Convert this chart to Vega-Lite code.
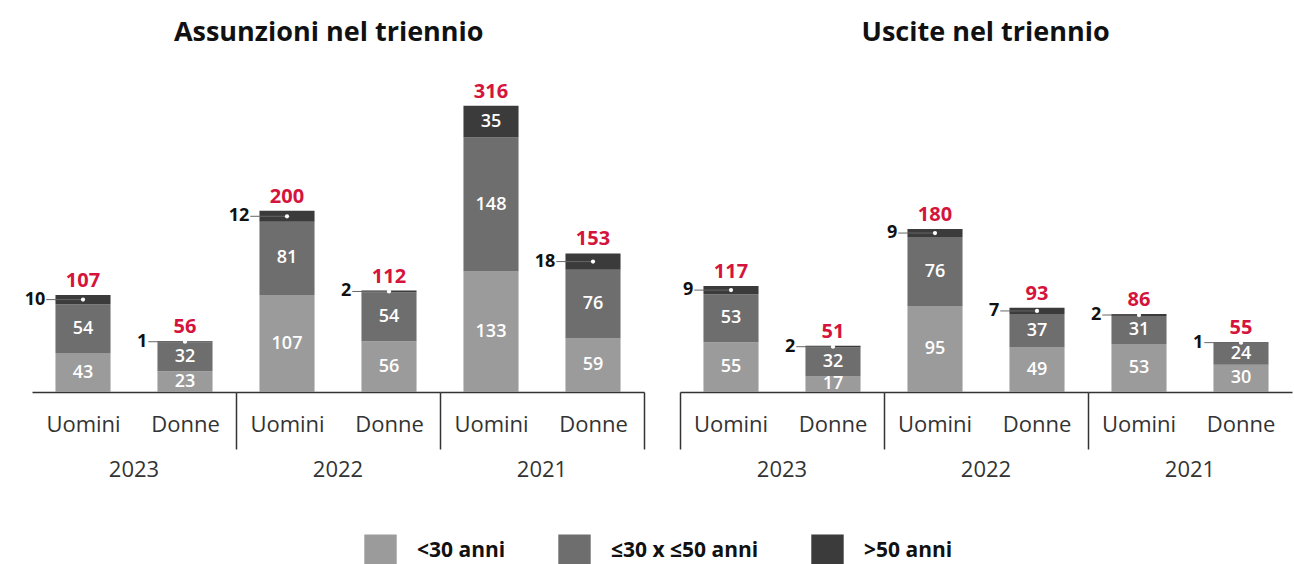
{
  "$schema": "https://vega.github.io/schema/vega-lite/v6.json",
  "padding": {"left": 24, "right": 2, "top": 19, "bottom": 0},
  "background": "white",
  "datasets": {
    "d": [
      {"panel": "Assunzioni", "year": "2023", "gender": "Uomini", "age": "<30 anni", "value": 43},
      {"panel": "Assunzioni", "year": "2023", "gender": "Uomini", "age": "≤30 x ≤50 anni", "value": 54},
      {"panel": "Assunzioni", "year": "2023", "gender": "Uomini", "age": ">50 anni", "value": 10},
      {"panel": "Assunzioni", "year": "2023", "gender": "Donne", "age": "<30 anni", "value": 23},
      {"panel": "Assunzioni", "year": "2023", "gender": "Donne", "age": "≤30 x ≤50 anni", "value": 32},
      {"panel": "Assunzioni", "year": "2023", "gender": "Donne", "age": ">50 anni", "value": 1},
      {"panel": "Assunzioni", "year": "2022", "gender": "Uomini", "age": "<30 anni", "value": 107},
      {"panel": "Assunzioni", "year": "2022", "gender": "Uomini", "age": "≤30 x ≤50 anni", "value": 81},
      {"panel": "Assunzioni", "year": "2022", "gender": "Uomini", "age": ">50 anni", "value": 12},
      {"panel": "Assunzioni", "year": "2022", "gender": "Donne", "age": "<30 anni", "value": 56},
      {"panel": "Assunzioni", "year": "2022", "gender": "Donne", "age": "≤30 x ≤50 anni", "value": 54},
      {"panel": "Assunzioni", "year": "2022", "gender": "Donne", "age": ">50 anni", "value": 2},
      {"panel": "Assunzioni", "year": "2021", "gender": "Uomini", "age": "<30 anni", "value": 133},
      {"panel": "Assunzioni", "year": "2021", "gender": "Uomini", "age": "≤30 x ≤50 anni", "value": 148},
      {"panel": "Assunzioni", "year": "2021", "gender": "Uomini", "age": ">50 anni", "value": 35},
      {"panel": "Assunzioni", "year": "2021", "gender": "Donne", "age": "<30 anni", "value": 59},
      {"panel": "Assunzioni", "year": "2021", "gender": "Donne", "age": "≤30 x ≤50 anni", "value": 76},
      {"panel": "Assunzioni", "year": "2021", "gender": "Donne", "age": ">50 anni", "value": 18},
      {"panel": "Uscite", "year": "2023", "gender": "Uomini", "age": "<30 anni", "value": 55},
      {"panel": "Uscite", "year": "2023", "gender": "Uomini", "age": "≤30 x ≤50 anni", "value": 53},
      {"panel": "Uscite", "year": "2023", "gender": "Uomini", "age": ">50 anni", "value": 9},
      {"panel": "Uscite", "year": "2023", "gender": "Donne", "age": "<30 anni", "value": 17},
      {"panel": "Uscite", "year": "2023", "gender": "Donne", "age": "≤30 x ≤50 anni", "value": 32},
      {"panel": "Uscite", "year": "2023", "gender": "Donne", "age": ">50 anni", "value": 2},
      {"panel": "Uscite", "year": "2022", "gender": "Uomini", "age": "<30 anni", "value": 95},
      {"panel": "Uscite", "year": "2022", "gender": "Uomini", "age": "≤30 x ≤50 anni", "value": 76},
      {"panel": "Uscite", "year": "2022", "gender": "Uomini", "age": ">50 anni", "value": 9},
      {"panel": "Uscite", "year": "2022", "gender": "Donne", "age": "<30 anni", "value": 49},
      {"panel": "Uscite", "year": "2022", "gender": "Donne", "age": "≤30 x ≤50 anni", "value": 37},
      {"panel": "Uscite", "year": "2022", "gender": "Donne", "age": ">50 anni", "value": 7},
      {"panel": "Uscite", "year": "2021", "gender": "Uomini", "age": "<30 anni", "value": 53},
      {"panel": "Uscite", "year": "2021", "gender": "Uomini", "age": "≤30 x ≤50 anni", "value": 31},
      {"panel": "Uscite", "year": "2021", "gender": "Uomini", "age": ">50 anni", "value": 2},
      {"panel": "Uscite", "year": "2021", "gender": "Donne", "age": "<30 anni", "value": 30},
      {"panel": "Uscite", "year": "2021", "gender": "Donne", "age": "≤30 x ≤50 anni", "value": 24},
      {"panel": "Uscite", "year": "2021", "gender": "Donne", "age": ">50 anni", "value": 1}
    ]
  },
  "hconcat": [
    {
      "data": {"name": "d"},
      "transform": [
        {"filter": "datum.panel == 'Assunzioni'"},
        {"calculate": "indexof(['<30 anni','≤30 x ≤50 anni','>50 anni'], datum.age)", "as": "idx"},
        {"stack": "value", "groupby": ["year", "gender"], "sort": [{"field": "idx", "order": "ascending"}], "as": ["s0", "s1"]},
        {"calculate": "(datum.s0 + datum.s1) / 2", "as": "mid"},
        {"joinaggregate": [{"op": "sum", "field": "value", "as": "total"}], "groupby": ["year", "gender"]}
      ],
      "title": {"text": "Assunzioni nel triennio", "dx": -6},
      "spacing": 0,
      "bounds": "flush",
      "facet": {"column": {"field": "year", "type": "nominal", "sort": ["2023", "2022", "2021"], "header": {"title": null, "labelOrient": "bottom", "labelFontSize": 22, "labelColor": "#333333", "labelPadding": 10, "labelFont": "Open Sans"}}},
      "spec": {
        "width": 204,
        "height": 317,
        "encoding": {
          "x": {"field": "gender", "type": "nominal", "sort": ["Uomini", "Donne"], "scale": {"paddingInner": 0, "paddingOuter": 0}, "axis": {"title": null, "ticks": true, "tickBand": "extent", "tickSize": 57, "tickWidth": 1.5, "tickColor": "#333333", "tickOpacity": {"expr": "datum.index == 1 ? 1 : 0"}, "labelAngle": 0, "labelFontSize": 22, "labelColor": "#333333", "labelPadding": -35, "labelFont": "Open Sans", "domainColor": "#333333", "domainWidth": 1.5}}
        },
        "layer": [
          {
            "mark": {"type": "bar", "width": {"band": 0.54}},
            "encoding": {
              "y": {"field": "s0", "type": "quantitative", "scale": {"domain": [0, 350], "nice": false}, "axis": null},
              "y2": {"field": "s1"},
              "color": {"field": "age", "type": "nominal", "scale": {"domain": ["<30 anni", "≤30 x ≤50 anni", ">50 anni"], "range": ["#9b9b9b", "#6e6e6e", "#3b3b3b"]}, "legend": {"title": null, "orient": "bottom", "direction": "horizontal", "symbolType": "square", "symbolSize": 1050, "symbolStrokeWidth": 0, "symbolOpacity": 1, "labelFontSize": 21, "labelFontWeight": "bold", "labelColor": "#111111", "labelOffset": 20, "columnPadding": 52, "offset": 53, "labelFont": "Open Sans"}}
            }
          },
          {
            "transform": [{"filter": "datum.age != '>50 anni' || datum.value >= 25"}],
            "mark": {"type": "text", "color": "white", "fontSize": 18, "fontWeight": 600, "baseline": "middle"},
            "encoding": {
              "y": {"field": "mid", "type": "quantitative"},
              "text": {"field": "value", "type": "quantitative"}
            }
          },
          {
            "transform": [{"filter": "datum.age == '>50 anni' && datum.value < 25"}],
            "mark": {"type": "rule", "color": "#666666", "strokeWidth": 1},
            "encoding": {
              "x": {"field": "gender", "type": "nominal", "sort": ["Uomini", "Donne"], "bandPosition": 0.14},
              "x2": {"field": "gender", "bandPosition": 0.5},
              "y": {"field": "mid", "type": "quantitative"}
            }
          },
          {
            "transform": [{"filter": "datum.age == '>50 anni' && datum.value < 25"}],
            "mark": {"type": "point", "filled": true, "color": "white", "opacity": 1, "size": 18},
            "encoding": {
              "y": {"field": "mid", "type": "quantitative"}
            }
          },
          {
            "transform": [{"filter": "datum.age == '>50 anni' && datum.value < 25"}],
            "mark": {"type": "text", "color": "#111111", "fontSize": 18, "fontWeight": "bold", "align": "right", "baseline": "middle"},
            "encoding": {
              "x": {"field": "gender", "type": "nominal", "sort": ["Uomini", "Donne"], "bandPosition": 0.13},
              "y": {"field": "mid", "type": "quantitative"},
              "text": {"field": "value", "type": "quantitative"}
            }
          },
          {
            "transform": [{"filter": "datum.idx == 2"}],
            "mark": {"type": "text", "color": "#d4143c", "fontSize": 20, "fontWeight": "bold", "baseline": "bottom", "dy": -4},
            "encoding": {
              "y": {"field": "total", "type": "quantitative"},
              "text": {"field": "total", "type": "quantitative"}
            }
          }
        ]
      }
    },
    {
      "data": {"name": "d"},
      "transform": [
        {"filter": "datum.panel == 'Uscite'"},
        {"calculate": "indexof(['<30 anni','≤30 x ≤50 anni','>50 anni'], datum.age)", "as": "idx"},
        {"stack": "value", "groupby": ["year", "gender"], "sort": [{"field": "idx", "order": "ascending"}], "as": ["s0", "s1"]},
        {"calculate": "(datum.s0 + datum.s1) / 2", "as": "mid"},
        {"joinaggregate": [{"op": "sum", "field": "value", "as": "total"}], "groupby": ["year", "gender"]}
      ],
      "title": {"text": "Uscite nel triennio", "dx": 0},
      "spacing": 0,
      "bounds": "flush",
      "facet": {"column": {"field": "year", "type": "nominal", "sort": ["2023", "2022", "2021"], "header": {"title": null, "labelOrient": "bottom", "labelFontSize": 22, "labelColor": "#333333", "labelPadding": 10, "labelFont": "Open Sans"}}},
      "spec": {
        "width": 204,
        "height": 317,
        "encoding": {
          "x": {"field": "gender", "type": "nominal", "sort": ["Uomini", "Donne"], "scale": {"paddingInner": 0, "paddingOuter": 0}, "axis": {"title": null, "ticks": true, "bandPosition": 0, "tickSize": 57, "tickWidth": 1.5, "tickColor": "#333333", "tickOpacity": {"expr": "datum.value == 'Uomini' ? 1 : 0"}, "labelAngle": 0, "labelFontSize": 22, "labelColor": "#333333", "labelPadding": -35, "labelFont": "Open Sans", "domainColor": "#333333", "domainWidth": 1.5}}
        },
        "layer": [
          {
            "mark": {"type": "bar", "width": {"band": 0.54}},
            "encoding": {
              "y": {"field": "s0", "type": "quantitative", "scale": {"domain": [0, 350], "nice": false}, "axis": null},
              "y2": {"field": "s1"},
              "color": {"field": "age", "type": "nominal", "scale": {"domain": ["<30 anni", "≤30 x ≤50 anni", ">50 anni"], "range": ["#9b9b9b", "#6e6e6e", "#3b3b3b"]}, "legend": {"title": null, "orient": "bottom", "direction": "horizontal", "symbolType": "square", "symbolSize": 1050, "symbolStrokeWidth": 0, "symbolOpacity": 1, "labelFontSize": 21, "labelFontWeight": "bold", "labelColor": "#111111", "labelOffset": 20, "columnPadding": 52, "offset": 53, "labelFont": "Open Sans"}}
            }
          },
          {
            "transform": [{"filter": "datum.age != '>50 anni' || datum.value >= 25"}],
            "mark": {"type": "text", "color": "white", "fontSize": 18, "fontWeight": 600, "baseline": "middle"},
            "encoding": {
              "y": {"field": "mid", "type": "quantitative"},
              "text": {"field": "value", "type": "quantitative"}
            }
          },
          {
            "transform": [{"filter": "datum.age == '>50 anni' && datum.value < 25"}],
            "mark": {"type": "rule", "color": "#666666", "strokeWidth": 1},
            "encoding": {
              "x": {"field": "gender", "type": "nominal", "sort": ["Uomini", "Donne"], "bandPosition": 0.14},
              "x2": {"field": "gender", "bandPosition": 0.5},
              "y": {"field": "mid", "type": "quantitative"}
            }
          },
          {
            "transform": [{"filter": "datum.age == '>50 anni' && datum.value < 25"}],
            "mark": {"type": "point", "filled": true, "color": "white", "opacity": 1, "size": 18},
            "encoding": {
              "y": {"field": "mid", "type": "quantitative"}
            }
          },
          {
            "transform": [{"filter": "datum.age == '>50 anni' && datum.value < 25"}],
            "mark": {"type": "text", "color": "#111111", "fontSize": 18, "fontWeight": "bold", "align": "right", "baseline": "middle"},
            "encoding": {
              "x": {"field": "gender", "type": "nominal", "sort": ["Uomini", "Donne"], "bandPosition": 0.13},
              "y": {"field": "mid", "type": "quantitative"},
              "text": {"field": "value", "type": "quantitative"}
            }
          },
          {
            "transform": [{"filter": "datum.idx == 2"}],
            "mark": {"type": "text", "color": "#d4143c", "fontSize": 20, "fontWeight": "bold", "baseline": "bottom", "dy": -4},
            "encoding": {
              "y": {"field": "total", "type": "quantitative"},
              "text": {"field": "total", "type": "quantitative"}
            }
          }
        ]
      }
    }
  ],
  "spacing": 34,
  "resolve": {"legend": {"color": "shared"}},
  "config": {
    "font": "Open Sans",
    "view": {"stroke": null},
    "legend": {"layout": {"bottom": {"anchor": "middle"}}},
    "title": {"fontSize": 27, "fontWeight": "bold", "color": "#111111", "anchor": "middle", "offset": 28, "font": "Open Sans"}
  }
}
